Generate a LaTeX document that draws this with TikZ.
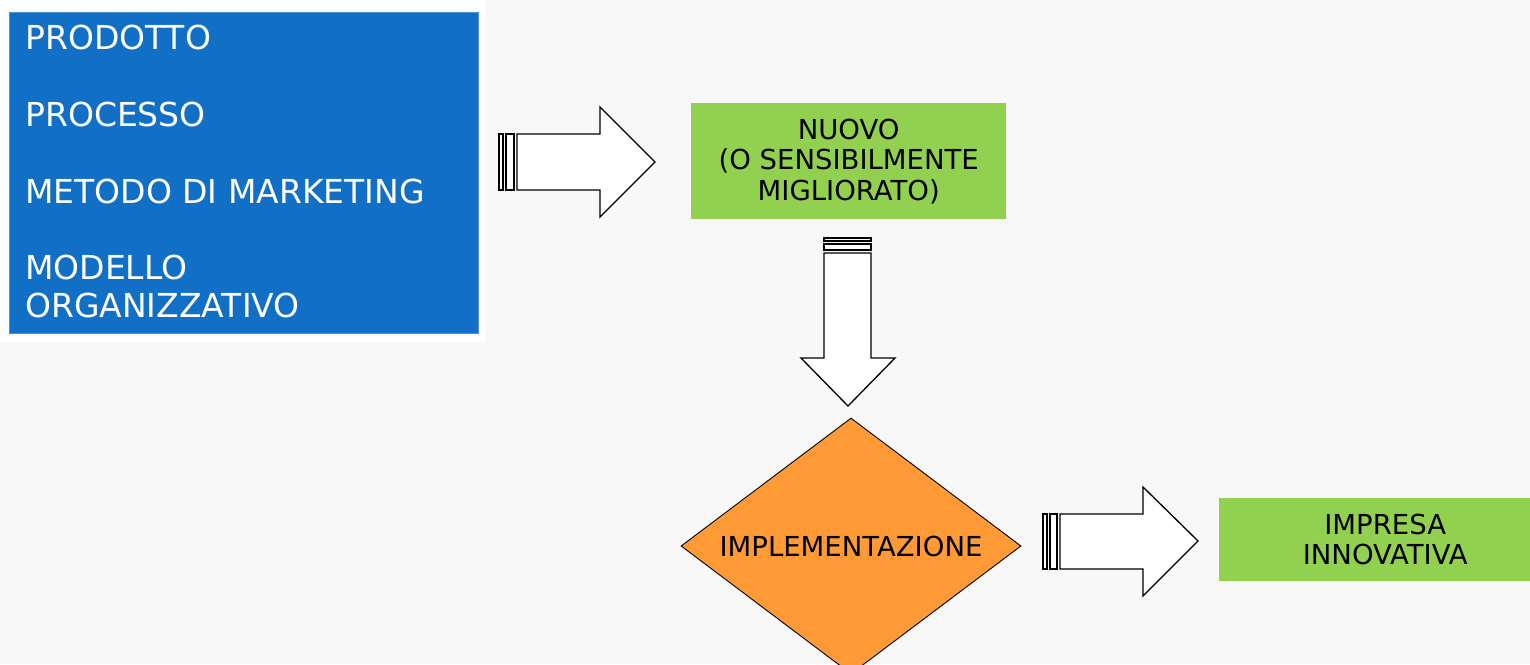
\documentclass[tikz,border=0pt]{standalone}
\usepackage{fontspec}
\setmainfont{DejaVu Sans}
\usetikzlibrary{shapes.geometric}
\definecolor{bgcol}{HTML}{F8F8F8}
\definecolor{blueA}{HTML}{1170C6}
\definecolor{blueB}{HTML}{4A92DA}
\definecolor{greenA}{HTML}{92D050}
\definecolor{orangeA}{HTML}{FF9A36}
\tikzset{
  bluebox/.style={rectangle, fill=blueA, draw=blueB, line width=0.8pt, anchor=north west,
    inner sep=0pt},
  bluetext/.style={anchor=base west, text=white, inner sep=0pt,
    font=\fontsize{33}{38.3}\selectfont},
  greenbox/.style={rectangle, fill=greenA, inner sep=0pt, anchor=north west,
    align=center, font=\fontsize{27.5}{30.5}\selectfont},
  decision/.style={diamond, fill=orangeA, draw=black, line width=0.9pt, inner sep=0pt},
  dtext/.style={font=\fontsize{27.5}{30.5}\selectfont, inner sep=0pt},
  blockarrow/.style={draw=black, fill=white, line width=1.3pt, line join=miter},
}
\begin{document}
\begin{tikzpicture}[x=1pt,y=-1pt]
\clip (0,0) rectangle (1530,664);
\fill[bgcol] (0,0) rectangle (1530,664);
\fill[white] (0,0) rectangle (485,342);
% source box
\node[bluebox, minimum width=469pt, minimum height=321pt] (src) at (9,12) {};
\node[bluetext] (t1) at (25,49) {PRODOTTO};
\node[bluetext] (t2) at (25,126) {PROCESSO};
\node[bluetext] (t3) at (25,203) {METODO DI MARKETING};
\node[bluetext] (t4) at (25,279) {MODELLO};
\node[bluetext] (t5) at (25,317) {ORGANIZZATIVO};
% new box
\node[greenbox, minimum width=315pt, minimum height=116pt] (nuovo) at (691,103)
  {NUOVO\\(O SENSIBILMENTE\\MIGLIORATO)};
% decision
\node[decision, minimum width=340pt, minimum height=256pt] (impl) at (851,546) {};
\node[dtext] (impltext) at (impl.center) {IMPLEMENTAZIONE};
% result box
\node[greenbox, minimum width=332pt, minimum height=83pt] (impresa) at (1219,498)
  {IMPRESA\\INNOVATIVA};
% arrow 1 (src -> nuovo)
\draw[blockarrow] (499,134) rectangle (503,190);
\draw[blockarrow] (506,134) rectangle (514,190);
\draw[blockarrow] (517,134) -- (600,134) -- (600,107) -- (655,162) -- (600,217) -- (600,190) -- (517,190) -- cycle;
% arrow 2 (nuovo -> impl)
\draw[blockarrow] (824,238) rectangle (871,241);
\draw[blockarrow] (824,244) rectangle (871,250);
\draw[blockarrow] (824,253) -- (824,358) -- (801,358) -- (848,406) -- (895,358) -- (871,358) -- (871,253) -- cycle;
% arrow 3 (impl -> impresa)
\draw[blockarrow] (1043,514) rectangle (1047,569);
\draw[blockarrow] (1050,514) rectangle (1057,569);
\draw[blockarrow] (1060,514) -- (1143,514) -- (1143,487) -- (1198,541) -- (1143,596) -- (1143,569) -- (1060,569) -- cycle;
\end{tikzpicture}
\end{document}
